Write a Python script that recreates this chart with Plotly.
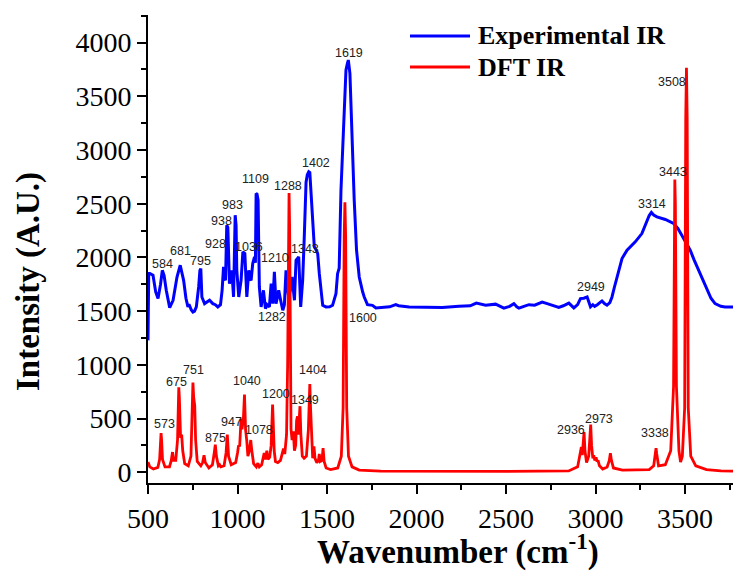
import plotly.graph_objects as go

# ---------------- data ----------------
exp_wn = [500, 504, 510, 528, 543, 556, 570, 580, 590, 602, 621, 640, 662, 680, 699, 712, 723, 729,
          742, 751, 760, 770, 783, 790, 795, 801, 816, 830, 844, 862, 876, 890, 905, 914, 922, 928,
          933, 940, 946, 955, 968, 978, 987, 992, 996, 1007, 1020, 1030, 1036, 1041, 1052, 1063,
          1070, 1076, 1085, 1095, 1100, 1104, 1109, 1115, 1122, 1132, 1145, 1156, 1165, 1178, 1188,
          1197, 1206, 1215, 1222, 1230, 1243, 1253, 1262, 1271, 1280, 1286, 1296, 1305, 1318, 1327,
          1335, 1342, 1353, 1364, 1373, 1383, 1390, 1398, 1404, 1411, 1416, 1429, 1440, 1448, 1457,
          1466, 1476, 1494, 1515, 1531, 1550, 1559, 1568, 1578, 1591, 1606, 1613, 1619, 1628, 1639,
          1652, 1665, 1680, 1699, 1708, 1726, 1754, 1773, 1819, 1850, 1884, 1900, 1959, 2050, 2144,
          2237, 2300, 2334, 2386, 2442, 2470, 2488, 2520, 2544, 2560, 2572, 2600, 2628, 2660, 2702,
          2730, 2748, 2795, 2820, 2851, 2879, 2900, 2916, 2935, 2953, 2965, 2972, 2985, 2995, 3010,
          3036, 3050, 3064, 3080, 3092, 3105, 3120, 3148, 3176, 3200, 3222, 3259, 3287, 3300, 3312,
          3325, 3343, 3390, 3436, 3460, 3482, 3505, 3529, 3550, 3575, 3600, 3622, 3645, 3668, 3700,
          3724, 3768]
exp_int = [1228, 1850, 1850, 1834, 1679, 1617, 1750, 1880, 1830, 1694, 1533, 1601, 1818, 1927, 1787,
           1620, 1539, 1564, 1510, 1492, 1500, 1539, 1725, 1880, 1896, 1632, 1570, 1590, 1601, 1570,
           1560, 1539, 1560, 1694, 1912, 1800, 1787, 2300, 2280, 1756, 1880, 1632, 2393, 2300, 1880,
           1632, 1787, 2051, 2040, 2036, 1632, 1880, 1800, 1787, 1943, 2005, 1950, 2595, 2590, 2533,
           1725, 1539, 1694, 1523, 1560, 1539, 1756, 1570, 1865, 1570, 1620, 1694, 1585, 1508, 1560,
           1880, 1700, 1632, 1700, 1818, 1601, 1974, 1990, 2005, 1539, 1787, 2191, 2700, 2770, 2797,
           2790, 2600, 2500, 2098, 2067, 2036, 1849, 1700, 1554, 1539, 1540, 1554, 1663, 1849, 1900,
           2626, 3216, 3745, 3800, 3838, 3713, 3061, 2533, 2067, 1818, 1680, 1632, 1560, 1554, 1530,
           1532, 1540, 1560, 1550, 1539, 1535, 1535, 1545, 1550, 1575, 1555, 1565, 1540, 1528, 1545,
           1570, 1540, 1528, 1545, 1560, 1555, 1585, 1570, 1560, 1535, 1550, 1575, 1530, 1560, 1617,
           1620, 1632, 1580, 1540, 1560, 1545, 1560, 1595, 1570, 1555, 1580, 1632, 1720, 1818, 1990,
           2067, 2110, 2145, 2222, 2331, 2390, 2419, 2395, 2378, 2353, 2316, 2270, 2207, 2140, 2067,
           1980, 1881, 1790, 1694, 1620, 1570, 1545, 1539, 1539]

dft_wn = [500, 510, 530, 555, 565, 570, 573, 576, 581, 595, 620, 630, 637, 643, 655, 665, 670, 672,
          675, 682, 688, 694, 705, 725, 740, 746, 751, 755, 761, 766, 775, 795, 805, 813, 820, 840,
          860, 870, 876, 882, 893, 900, 907, 925, 936, 943, 950, 965, 990, 1000, 1006, 1012, 1020,
          1025, 1033, 1039, 1045, 1052, 1058, 1066, 1074, 1080, 1090, 1105, 1114, 1122, 1135, 1149,
          1155, 1164, 1170, 1180, 1188, 1196, 1200, 1205, 1212, 1225, 1240, 1250, 1257, 1264, 1274,
          1280, 1285, 1288, 1291, 1295, 1299, 1305, 1312, 1318, 1325, 1330, 1335, 1340, 1345, 1349,
          1354, 1362, 1372, 1385, 1396, 1401, 1404, 1408, 1414, 1420, 1427, 1433, 1443, 1452, 1457,
          1462, 1472, 1478, 1484, 1495, 1520, 1560, 1580, 1590, 1596, 1600, 1604, 1610, 1620, 1640,
          1680, 1800, 2500, 2850, 2900, 2915, 2921, 2926, 2932, 2936, 2941, 2950, 2962, 2970, 2973,
          2978, 2985, 2990, 2996, 3003, 3008, 3014, 3022, 3040, 3065, 3077, 3083, 3089, 3100, 3150,
          3300, 3325, 3334, 3338, 3342, 3352, 3390, 3420, 3436, 3441, 3443, 3446, 3452, 3466, 3475,
          3485, 3498, 3504, 3508, 3512, 3518, 3532, 3560, 3620, 3700, 3768]
dft_int = [95, 50, 30, 45, 120, 300, 365, 300, 120, 50, 50, 110, 188, 110, 110, 300, 760, 791,
           700, 320, 350, 200, 80, 60, 150, 600, 835, 700, 620, 300, 100, 60, 90, 158, 90, 40,
           70, 180, 257, 150, 60, 70, 50, 60, 180, 350, 150, 70, 90, 180, 250, 240, 500,
           400, 500, 723, 400, 290, 150, 200, 300, 200, 80, 50, 85, 50, 70, 180,
           120, 200, 120, 140, 250, 631, 450, 200, 100, 90, 110, 180, 220, 170, 350,
           1000, 2400, 2600, 2300, 700, 400, 300, 380, 200, 250, 480, 520, 350, 500, 615,
           350, 150, 130, 150, 400, 780, 822, 600, 250, 130, 240, 130, 90, 110, 170,
           100, 110, 225, 100, 40, 25, 40, 150, 600, 2200, 2514, 2200, 600, 150, 50,
           20, 10, 8, 12, 50, 180, 234, 160, 300, 374, 200, 90, 150, 420, 443,
           250, 130, 157, 110, 140, 100, 110, 60, 30, 50, 110, 178, 110, 40, 20,
           25, 60, 170, 225, 170, 60, 70, 200, 800, 2500, 2726, 2500, 800, 200, 94,
           150, 600, 3300, 3766, 3300, 600, 150, 60, 25, 12, 10]

# peak labels: text, x, y (label positions as they sit in the picture)
exp_lbl_text = ["584", "681", "795", "928", "938", "983", "1036", "1109", "1210", "1282", "1343",
                "1402", "1619", "2949", "3314"]
exp_lbl_x = [579, 681, 792, 877, 909, 970, 1063, 1099, 1210, 1195, 1377, 1439, 1624, 2975, 3315]
exp_lbl_y = [1943, 2058, 1968, 2123, 2340, 2486, 2098, 2726, 1999, 1446, 2074, 2875, 3906, 1725, 2493]

dft_lbl_text = ["573", "675", "751", "875", "947", "1040", "1078", "1200", "1288", "1349", "1404",
                "1600", "2936", "2973", "3338", "3443", "3508"]
dft_lbl_x = [593, 658, 753, 879, 967, 1054, 1119, 1216, 1280, 1375, 1424, 1700, 2863, 3018, 3330,
             3430, 3429]
dft_lbl_y = [452, 837, 949, 318, 467, 850, 396, 731, 2666, 669, 955, 1440, 396, 492, 368, 2794, 3636]

x_ticks = [500, 1000, 1500, 2000, 2500, 3000, 3500]
y_ticks = [0, 500, 1000, 1500, 2000, 2500, 3000, 3500, 4000]

# ---------------- figure ----------------
fig = go.Figure()
fig.add_trace(go.Scatter(x=exp_wn, y=exp_int, mode="lines", name="Experimental IR",
                         line=dict(color="#0000FF", width=3), showlegend=False))
fig.add_trace(go.Scatter(x=dft_wn, y=dft_int, mode="lines", name="DFT IR",
                         line=dict(color="#FF0000", width=2.8), showlegend=False))

lbl_font = dict(family="Liberation Sans, Arial", size=12.5, color="#222222")
for t, x, y in zip(exp_lbl_text + dft_lbl_text, exp_lbl_x + dft_lbl_x, exp_lbl_y + dft_lbl_y):
    fig.add_annotation(x=x, y=y, text=t, showarrow=False, xref="x", yref="y",
                       xanchor="center", yanchor="middle", font=lbl_font)

# legend drawn by hand (line samples + bold text)
W, H = 733, 577
L, R, T, B = 148, 0, 15, 94
pw, ph = W - L - R, H - T - B


def px(xp):
    return (xp - L) / pw


def py(yp):
    return (H - B - yp) / ph


leg_font = dict(family="Liberation Serif, Times New Roman", size=26, color="black", weight="bold")
for name, color, ypix in [("Experimental IR", "#0000FF", 36), ("DFT IR", "#FF0000", 67)]:
    fig.add_shape(type="line", xref="paper", yref="paper", x0=px(410), x1=px(470),
                  y0=py(ypix), y1=py(ypix), line=dict(color=color, width=3))
    fig.add_annotation(xref="paper", yref="paper", x=px(476), y=py(ypix), text=name,
                       showarrow=False, xanchor="left", yanchor="middle", font=leg_font)

title_font = dict(family="Liberation Serif, Times New Roman", size=33, color="black", weight="bold")
fig.add_annotation(xref="paper", yref="paper", x=px(28), y=py(282), text="Intensity (A.U.)",
                   textangle=-90, showarrow=False, xanchor="center", yanchor="middle", font=title_font)
fig.add_annotation(xref="paper", yref="paper", x=px(458), y=py(549),
                   text="Wavenumber (cm<sup>-1</sup>)", showarrow=False,
                   xanchor="center", yanchor="middle", font=title_font)

tick_font = dict(family="Liberation Serif, Times New Roman", size=28, color="black")
fig.update_xaxes(range=[500, 3768], tickvals=x_ticks, ticks="outside", ticklen=9, tickwidth=1.5,
                 showline=True, linecolor="black", linewidth=2, showgrid=False, zeroline=False,
                 tickfont=tick_font, tickcolor="black", automargin=False,
                 minor=dict(dtick=250, tick0=500, ticks="outside", ticklen=5, tickcolor="black",
                            tickwidth=1.5))
fig.update_yaxes(range=[-100, 4257], tickvals=y_ticks, ticks="outside", ticklen=9, tickwidth=1.5,
                 showline=True, linecolor="black", linewidth=2, showgrid=False, zeroline=False,
                 tickfont=tick_font, tickcolor="black", automargin=False,
                 minor=dict(dtick=250, tick0=0, ticks="outside", ticklen=5, tickcolor="black",
                            tickwidth=1.5))
fig.update_layout(width=W, height=H, margin=dict(l=L, r=R, t=T, b=B, autoexpand=False),
                  plot_bgcolor="white", paper_bgcolor="white", showlegend=False)
fig.write_html("out.html", config={"displayModeBar": False},
               post_script="document.body.style.margin='0';document.body.style.overflow='hidden';")
